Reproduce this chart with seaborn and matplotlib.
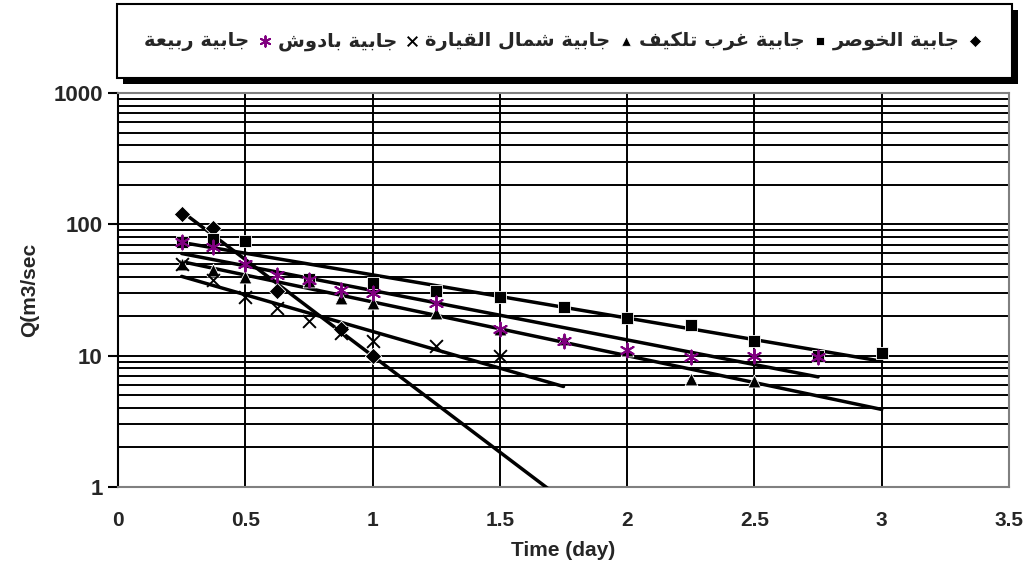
import matplotlib as mpl
mpl.use('Agg')

import matplotlib.pyplot as plt
import matplotlib.ticker as mticker
from matplotlib.patches import Rectangle
import seaborn as sns
import numpy as np

sns.set_theme(style="white")
plt.rcParams['font.family'] = ['Liberation Sans', 'DejaVu Sans']
plt.rcParams['font.weight'] = 'bold'

# series names (legend order as in the workbook)
names = ['جابية الخوصر', 'جابية غرب تلكيف', 'جابية شمال القيارة', 'جابية بادوش', 'جابية ربيعة']

time_khosr = [0.25, 0.375, 0.625, 0.875, 1.0]
q_khosr = [120, 93, 31, 16, 10]

time_tilkaif = [0.25, 0.375, 0.5, 0.75, 1.0, 1.25, 1.5, 1.75, 2.0, 2.25, 2.5, 2.75, 3.0]
q_tilkaif = [73, 78, 75, 38.5, 36, 31.3, 28.2, 23.5, 19.5, 17, 13, 10, 10.4]

time_qayyara = [0.25, 0.375, 0.5, 0.75, 0.875, 1.0, 1.25, 1.5, 1.75, 2.0, 2.25, 2.5]
q_qayyara = [50, 45, 40, 37, 27.5, 25, 21, 16, 13.5, 11, 6.6, 6.4]

time_badush = [0.25, 0.375, 0.5, 0.625, 0.75, 0.875, 1.0, 1.25, 1.5]
q_badush = [50, 38, 28, 23, 18.3, 15, 12.9, 11.8, 10]

time_rabia = [0.25, 0.375, 0.5, 0.625, 0.75, 0.875, 1.0, 1.25, 1.5, 1.75, 2.0, 2.25, 2.5, 2.75]
q_rabia = [74, 67, 50, 41, 38, 31.4, 30, 25, 16, 13, 11, 9.8, 10, 9.8]

# where each exponential trendline stops (forecast forward)
trend_end = [1.75, 3.0, 3.0, 1.75, 2.75]

x_ticks = [0, 0.5, 1, 1.5, 2, 2.5, 3, 3.5]
y_ticks = [1, 10, 100, 1000]

# Arabic letters -> (first presentation form, dual joining)
AR = {'ا': (0xFE8D, False), 'ب': (0xFE8F, True), 'ة': (0xFE93, False),
      'ت': (0xFE95, True), 'ج': (0xFE9D, True), 'خ': (0xFEA5, True),
      'د': (0xFEA9, False), 'ر': (0xFEAD, False), 'ش': (0xFEB5, True),
      'ص': (0xFEB9, True), 'ع': (0xFEC9, True), 'غ': (0xFECD, True),
      'ف': (0xFED1, True), 'ق': (0xFED5, True), 'ك': (0xFED9, True),
      'ل': (0xFEDD, True), 'م': (0xFEE1, True), 'و': (0xFEED, False),
      'ي': (0xFEF1, True)}


def shape_ar(text):
    # matplotlib has no arabic shaping: pick joined forms and reverse
    out = []
    for i, ch in enumerate(text):
        if ch not in AR:
            out.append(ch)
            continue
        base, dual = AR[ch]
        prev = text[i - 1] if i > 0 else ''
        nxt = text[i + 1] if i + 1 < len(text) else ''
        jp = prev in AR and AR[prev][1]
        jn = dual and nxt in AR
        if jp and jn:
            cp = base + 3
        elif jp:
            cp = base + 1
        elif jn:
            cp = base + 2
        else:
            cp = base
        out.append(chr(cp))
    return ''.join(reversed(out))


series = [(time_khosr, q_khosr), (time_tilkaif, q_tilkaif), (time_qayyara, q_qayyara),
          (time_badush, q_badush), (time_rabia, q_rabia)]
markers = ['D', 's', '^', 'x', (6, 2, 0)]
colors = ['black', 'black', 'black', 'black', '#800080']
sizes = [70, 70, 85, 85, 100]

fig = plt.figure(figsize=(10.3, 5.61), dpi=100)
ax = fig.add_axes([0.1146, 0.1319, 0.8650, 0.7023])

for (t, q), name, m, c, s, tend in zip(series, names, markers, colors, sizes, trend_end):
    t = np.array(t)
    q = np.array(q)
    b, a = np.polyfit(t, np.log(q), 1)
    tt = np.linspace(t.min(), tend, 50)
    sns.lineplot(x=tt, y=np.exp(a + b * tt), color='black', lw=2.5, ax=ax, zorder=3)
    filled = m != 'x' and not isinstance(m, tuple)
    sns.scatterplot(x=t, y=q, marker=m, color=c, s=s, ax=ax, zorder=4,
                    edgecolor='white' if filled else c, linewidth=0.6 if filled else 1.4,
                    label=shape_ar(name))

ax.set_yscale('log')
ax.set_xlim(0, 3.5)
ax.set_ylim(1, 1000)
ax.set_xticks(x_ticks)
ax.xaxis.set_major_formatter(mticker.FuncFormatter(lambda v, p: f'{v:g}'))
ax.set_yticks(y_ticks)
ax.yaxis.set_major_formatter(mticker.FuncFormatter(lambda v, p: f'{v:g}'))
ax.yaxis.set_minor_formatter(mticker.NullFormatter())

ax.grid(which='both', axis='y', color='black', lw=1.4)
ax.grid(which='major', axis='x', color='black', lw=1.4)
ax.set_axisbelow(True)
for side in ['top', 'right', 'bottom']:
    ax.spines[side].set_color('#808080')
    ax.spines[side].set_linewidth(1.5)
ax.spines['left'].set_color('black')
ax.spines['left'].set_linewidth(1.5)

ax.tick_params(axis='y', which='major', direction='out', length=7, width=1.5,
               color='black', left=True, labelsize=16, pad=4)
ax.tick_params(axis='y', which='minor', length=0)
ax.tick_params(axis='x', length=0, labelsize=15, pad=17)
for lab in ax.get_xticklabels() + ax.get_yticklabels():
    lab.set_fontweight('bold')

ax.set_xlabel('Time (day)', fontsize=15, fontweight='bold', labelpad=8)
ax.set_ylabel('Q(m3/sec', fontsize=15, fontweight='bold', labelpad=10)

handles, labels = ax.get_legend_handles_labels()
ax.get_legend().remove()
leg = fig.legend(handles[::-1], labels[::-1], loc='center', ncol=5, mode='expand',
                 bbox_to_anchor=(0.1136, 0.8627, 0.869, 0.128), borderaxespad=0,
                 markerfirst=False, fancybox=False, frameon=True, edgecolor='black',
                 framealpha=1, borderpad=1.4, handletextpad=0.3, handlelength=1.0,
                 columnspacing=0.8, markerscale=0.75,
                 prop={'family': ['DejaVu Sans'], 'weight': 'bold', 'size': 14})
leg.get_frame().set_linewidth(1.5)

fig.canvas.draw()
bb = leg.get_frame().get_window_extent()
sh = Rectangle((bb.x0 + 6, bb.y0 - 6), bb.width, bb.height, facecolor='black',
               edgecolor='none', transform=None, zorder=leg.get_zorder() - 1)
fig.patches.append(sh)

fig.savefig('out.png', dpi=100)
